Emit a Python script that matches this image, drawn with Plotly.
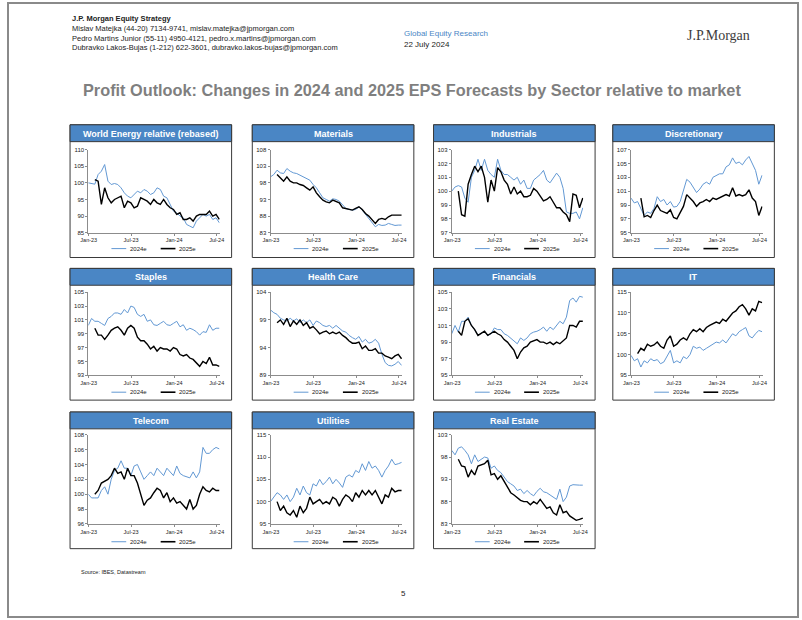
import plotly.graph_objects as go

W, H = 802, 620

DATES = ["2022-12-30", "2023-01-13", "2023-01-27", "2023-02-10", "2023-02-24", "2023-03-10",
         "2023-03-24", "2023-04-07", "2023-04-21", "2023-05-05", "2023-05-19", "2023-06-02",
         "2023-06-16", "2023-06-30", "2023-07-14", "2023-07-28", "2023-08-11", "2023-08-25",
         "2023-09-08", "2023-09-22", "2023-10-06", "2023-10-20", "2023-11-03", "2023-11-17",
         "2023-12-01", "2023-12-15", "2023-12-29", "2024-01-12", "2024-01-26", "2024-02-09",
         "2024-02-23", "2024-03-08", "2024-03-22", "2024-04-05", "2024-04-19", "2024-05-03",
         "2024-05-17", "2024-05-31", "2024-06-14", "2024-06-28", "2024-07-12"]

TICK_VALS = ["2023-01-01", "2023-07-01", "2024-01-01", "2024-07-01"]
TICK_TEXT = ["Jan-23", "Jul-23", "Jan-24", "Jul-24"]
SERIES_NAMES = ["2024e", "2025e"]

ENERGY_24 = [100.0, 99.8, 99.6, 102.5, 103.5, 105.5, 100.5, 99.5, 99.8, 99.5, 98.5, 97.0, 96.0, 95.5, 96.5, 97.5, 97.0, 98.0, 97.5, 96.5, 97.0, 98.5, 98.0, 96.0, 95.5, 93.5, 91.5, 91.0, 90.0, 89.5, 87.5, 87.0, 86.5, 88.5, 89.5, 90.5, 90.0, 90.5, 89.0, 89.5, 88.0]
ENERGY_25 = [None, None, 101.0, 100.5, 93.5, 98.5, 95.5, 94.0, 95.0, 95.5, 96.0, 92.5, 94.5, 94.0, 92.5, 93.0, 95.5, 95.0, 94.5, 93.5, 95.0, 94.0, 93.5, 95.0, 93.5, 92.5, 92.0, 90.5, 91.0, 89.0, 89.0, 89.5, 88.5, 90.0, 90.5, 90.5, 90.5, 91.5, 90.0, 90.5, 89.0]

MATERIALS_24 = [99.8, 100.5, 101.8, 101.0, 100.8, 102.3, 101.5, 101.0, 100.8, 100.3, 100.0, 99.5, 98.8, 97.5, 96.5, 95.0, 93.5, 93.0, 92.5, 93.2, 93.0, 92.5, 91.5, 90.3, 90.0, 89.8, 90.0, 90.8, 89.8, 88.5, 87.2, 86.0, 84.8, 85.5, 85.2, 85.3, 85.8, 85.5, 85.2, 85.3, 85.3]
MATERIALS_25 = [None, None, 100.5, 99.5, 98.5, 99.8, 98.5, 98.0, 98.0, 97.5, 97.2, 96.5, 95.8, 96.8, 95.0, 93.8, 92.8, 92.3, 92.0, 92.8, 92.5, 92.0, 90.5, 90.2, 90.0, 89.8, 90.3, 90.8, 90.0, 88.8, 88.0, 87.0, 85.8, 87.0, 87.3, 87.0, 87.8, 88.3, 88.2, 88.3, 88.3]

INDUSTRIALS_24 = [100.0, 100.3, 100.4, 100.3, 99.5, 99.2, 101.0, 101.5, 102.3, 101.5, 102.3, 101.5, 101.2, 101.0, 102.3, 101.5, 101.2, 101.2, 101.0, 100.8, 101.0, 100.5, 100.8, 100.2, 100.2, 100.8, 101.0, 101.2, 101.5, 100.8, 100.6, 101.0, 101.3, 101.0, 100.2, 98.5, 98.4, 98.4, 98.5, 98.0, 98.8]
INDUSTRIALS_25 = [None, None, 100.0, 98.3, 98.2, 100.5, 101.2, 101.8, 101.4, 101.8, 101.0, 99.2, 100.8, 100.0, 101.7, 101.4, 100.8, 100.5, 99.8, 100.3, 99.8, 100.0, 99.6, 99.6, 99.7, 100.2, 100.0, 99.6, 99.3, 99.4, 99.6, 99.2, 98.8, 98.8, 98.5, 98.3, 97.8, 99.8, 99.7, 98.8, 99.5]

DISCRETIONARY_24 = [100.0, 99.3, 99.5, 98.5, 97.5, 98.0, 97.8, 98.5, 100.2, 99.5, 99.8, 99.0, 99.5, 98.7, 98.8, 99.5, 101.0, 102.7, 102.3, 101.5, 100.8, 101.3, 102.0, 102.3, 102.0, 103.0, 103.3, 103.5, 103.5, 104.5, 104.8, 105.8, 105.0, 105.2, 104.8, 105.5, 106.0, 105.0, 104.0, 102.0, 103.3]
DISCRETIONARY_25 = [None, None, None, 100.0, 97.3, 97.5, 97.2, 98.2, 99.0, 98.2, 98.0, 97.8, 98.3, 97.2, 97.0, 98.0, 98.8, 100.5, 100.0, 99.5, 98.8, 99.3, 99.5, 99.8, 99.5, 100.0, 99.8, 100.0, 100.2, 100.5, 100.3, 101.5, 100.3, 100.5, 100.3, 100.5, 101.2, 100.0, 99.5, 97.5, 98.8]

STAPLES_24 = [100.2, 101.2, 100.8, 100.8, 100.5, 100.2, 101.2, 101.5, 102.0, 102.0, 101.8, 102.5, 102.0, 103.0, 102.8, 101.8, 101.5, 101.8, 100.8, 101.0, 100.3, 100.2, 100.5, 100.8, 100.3, 100.2, 100.5, 100.8, 100.0, 100.3, 99.5, 99.8, 99.6, 99.3, 98.8, 99.3, 99.2, 100.3, 99.5, 99.8, 99.8]
STAPLES_25 = [None, None, 99.8, 98.8, 98.8, 98.2, 98.8, 99.5, 99.8, 100.0, 99.5, 98.8, 99.8, 100.2, 99.8, 98.5, 98.0, 98.0, 97.5, 96.8, 97.2, 96.5, 97.0, 96.8, 96.8, 96.5, 97.0, 96.8, 96.0, 95.8, 96.0, 95.5, 95.3, 94.8, 94.3, 95.0, 94.7, 95.6, 94.5, 94.5, 94.3]

HEALTH_24 = [100.8, 100.3, 100.0, 99.3, 99.0, 98.8, 99.3, 98.8, 99.2, 98.5, 99.0, 98.5, 99.0, 98.0, 98.8, 98.5, 98.0, 97.8, 98.0, 97.5, 98.0, 97.5, 97.0, 96.8, 96.2, 95.8, 95.5, 96.0, 95.0, 95.5, 94.8, 95.0, 95.5, 94.8, 92.8, 91.3, 90.8, 90.7, 91.0, 91.5, 90.8]
HEALTH_25 = [None, None, 98.5, 99.0, 98.2, 99.3, 97.8, 98.8, 98.2, 99.0, 98.0, 98.5, 97.5, 97.8, 97.2, 96.5, 96.8, 97.0, 96.5, 96.8, 96.5, 96.8, 96.2, 95.8, 95.2, 94.8, 94.8, 95.0, 93.8, 94.3, 93.5, 93.5, 93.8, 93.0, 93.0, 92.5, 92.3, 92.0, 92.5, 92.8, 92.0]

FINANCIALS_24 = [100.0, 101.0, 100.2, 101.5, 101.5, 102.0, 101.0, 100.5, 99.8, 100.0, 100.3, 99.8, 100.0, 100.7, 100.5, 100.5, 100.0, 99.8, 99.5, 99.2, 98.8, 99.5, 99.2, 99.5, 100.0, 100.2, 100.3, 100.5, 100.8, 100.3, 100.8, 100.5, 101.0, 101.5, 101.2, 102.0, 104.0, 104.3, 103.8, 104.5, 104.4]
FINANCIALS_25 = [None, None, 100.3, 99.8, 101.5, 101.8, 101.0, 100.5, 99.8, 100.0, 100.3, 99.8, 100.0, 100.3, 100.0, 99.8, 99.3, 99.0, 98.5, 98.0, 97.0, 97.8, 98.3, 98.5, 99.0, 99.2, 99.3, 99.0, 99.0, 98.8, 99.0, 98.7, 99.0, 98.8, 99.2, 99.5, 101.0, 101.0, 100.8, 101.5, 101.5]

IT_24 = [99.8, 98.5, 99.0, 97.0, 98.5, 98.0, 99.0, 98.5, 98.8, 97.8, 98.2, 99.5, 101.0, 98.0, 98.5, 98.0, 99.5, 99.0, 100.0, 102.0, 101.5, 101.8, 101.0, 101.5, 102.0, 102.5, 103.0, 102.8, 103.5, 102.8, 104.0, 105.0, 104.5, 105.5, 106.0, 106.5, 104.5, 104.0, 105.0, 105.8, 105.5]
IT_25 = [None, None, 100.2, 101.5, 101.0, 102.5, 102.0, 102.3, 103.0, 102.0, 101.5, 103.5, 104.5, 102.0, 102.5, 103.5, 104.0, 103.5, 105.0, 106.0, 105.5, 106.2, 105.5, 106.5, 107.0, 107.5, 107.8, 107.5, 108.5, 108.0, 109.0, 110.0, 110.5, 111.5, 112.0, 111.0, 109.5, 111.0, 110.5, 112.8, 112.5]

TELECOM_24 = [100.0, 99.5, 99.5, 99.5, 100.5, 101.0, 100.0, 102.0, 103.2, 103.5, 104.5, 103.5, 103.5, 102.5, 103.8, 104.0, 103.0, 102.0, 102.5, 103.0, 102.5, 103.5, 103.0, 102.5, 103.5, 103.0, 102.5, 103.8, 102.8, 102.5, 102.3, 102.2, 103.0, 102.2, 103.0, 106.3, 105.5, 105.5, 106.0, 106.3, 106.1]
TELECOM_25 = [None, None, 100.0, 100.5, 101.5, 101.8, 102.0, 102.5, 103.5, 102.8, 103.0, 102.0, 103.5, 102.5, 102.5, 101.5, 100.0, 98.5, 99.2, 99.5, 100.2, 100.8, 100.5, 99.5, 100.2, 99.0, 99.5, 98.8, 99.0, 98.5, 98.0, 99.3, 98.0, 98.5, 100.0, 101.0, 100.5, 100.3, 100.8, 100.5, 100.5]

UTILITIES_24 = [100.0, 101.0, 102.0, 101.5, 100.5, 101.5, 100.0, 101.0, 103.0, 101.5, 103.5, 102.0, 101.5, 104.0, 103.5, 105.0, 103.8, 104.5, 105.5, 104.0, 105.0, 104.2, 103.2, 105.5, 106.0, 105.5, 107.0, 106.5, 108.5, 107.0, 109.0, 107.5, 108.0, 107.0, 105.5, 107.0, 108.0, 109.5, 108.3, 108.5, 108.8]
UTILITIES_25 = [None, None, 100.0, 98.0, 99.0, 97.5, 97.0, 98.0, 96.5, 99.0, 97.5, 98.5, 101.0, 99.5, 100.0, 100.5, 99.5, 100.0, 99.5, 101.0, 100.5, 99.0, 100.5, 101.5, 101.0, 100.0, 102.0, 101.0, 102.5, 101.5, 102.5, 101.5, 102.5, 101.0, 99.5, 101.5, 101.0, 103.0, 102.2, 102.5, 102.5]

REALESTATE_24 = [99.5, 98.5, 100.0, 100.3, 99.5, 98.5, 96.5, 98.5, 97.0, 97.5, 98.0, 97.8, 95.5, 96.0, 95.0, 94.5, 93.5, 92.5, 92.0, 91.5, 90.5, 90.8, 89.8, 90.5, 89.8, 89.3, 90.3, 91.0, 90.2, 90.0, 89.5, 89.0, 88.5, 90.8, 88.0, 89.0, 91.5, 91.8, 91.7, 91.7, 91.7]
REALESTATE_25 = [None, None, 97.5, 96.0, 95.8, 93.5, 95.0, 94.0, 96.0, 96.3, 96.5, 97.3, 94.0, 94.3, 93.0, 93.8, 92.5, 91.5, 90.0, 89.5, 88.8, 88.3, 88.0, 88.0, 87.3, 88.0, 87.5, 88.5, 87.5, 86.5, 86.8, 85.5, 85.0, 87.3, 85.5, 85.8, 84.8, 84.3, 83.8, 84.0, 84.3]

TITLES = ["World Energy relative (rebased)", "Materials", "Industrials", "Discretionary",
          "Staples", "Health Care", "Financials", "IT",
          "Telecom", "Utilities", "Real Estate"]
SERIES_24 = [ENERGY_24, MATERIALS_24, INDUSTRIALS_24, DISCRETIONARY_24, STAPLES_24, HEALTH_24,
             FINANCIALS_24, IT_24, TELECOM_24, UTILITIES_24, REALESTATE_24]
SERIES_25 = [ENERGY_25, MATERIALS_25, INDUSTRIALS_25, DISCRETIONARY_25, STAPLES_25, HEALTH_25,
             FINANCIALS_25, IT_25, TELECOM_25, UTILITIES_25, REALESTATE_25]
Y_MIN = [85, 83, 97, 95, 93, 89, 95, 95, 96, 95, 83]
Y_MAX = [110, 108, 103, 107, 105, 104, 105, 115, 108, 115, 103]
Y_STEP = [5, 5, 1, 2, 2, 5, 2, 5, 2, 5, 5]

# ---------------- styling / layout ----------------
BLUE_LINE = "#6298d3"
BLACK_LINE = "#000000"
BAR_BLUE = "#4a86c5"
BORDER = "#3a3a3a"
AXIS_COL = "#8c8c8c"
TXT = "#222222"
FONT = "Liberation Sans, Arial, sans-serif"

COL_LEFT = [63, 248, 432, 614]
BOX_W = 164
# (box top, plot top, plot bottom, box bottom, legend y)
ROWS = [(123, 148, 232, 257, 248), (268, 292, 376, 401, 393), (413, 436, 526, 551, 544)]


def px(x):
    return x / W


def py(y):
    return 1 - y / H


fig = go.Figure()
shapes = []
annotations = []
layout_axes = {}

for i, title in enumerate(TITLES):
    r, c = divmod(i, 4)
    bx = COL_LEFT[c]
    btop, ptop, pbot, bbot, legy = ROWS[r]
    n = i + 1
    xa = "x" if n == 1 else f"x{n}"
    ya = "y" if n == 1 else f"y{n}"
    xkey = "xaxis" if n == 1 else f"xaxis{n}"
    ykey = "yaxis" if n == 1 else f"yaxis{n}"

    # panel box and title bar
    shapes.append(dict(type="rect", xref="paper", yref="paper", x0=px(bx), x1=px(bx + BOX_W),
                       y0=py(bbot), y1=py(btop), line=dict(color=BORDER, width=1),
                       fillcolor="white", layer="below"))
    shapes.append(dict(type="rect", xref="paper", yref="paper", x0=px(bx), x1=px(bx + BOX_W),
                       y0=py(btop + 17), y1=py(btop), line=dict(color=BORDER, width=1),
                       fillcolor=BAR_BLUE, layer="below"))
    annotations.append(dict(text=f"<b>{title}</b>", x=px(bx + BOX_W / 2), y=py(btop + 9),
                            xref="paper", yref="paper", showarrow=False, xanchor="center",
                            yanchor="middle", font=dict(family=FONT, size=9, color="white")))

    # legend (manual, small line samples)
    for j, (name, col, wid) in enumerate(zip(SERIES_NAMES, [BLUE_LINE, BLACK_LINE], [1, 1.6])):
        lx = bx + 42 + j * 50
        shapes.append(dict(type="line", xref="paper", yref="paper", x0=px(lx), x1=px(lx + 15),
                           y0=py(legy), y1=py(legy), line=dict(color=col, width=wid)))
        annotations.append(dict(text=name, x=px(lx + 17), y=py(legy), xref="paper", yref="paper",
                                showarrow=False, xanchor="left", yanchor="middle",
                                font=dict(family=FONT, size=6, color=TXT)))

    fig.add_trace(go.Scatter(x=DATES, y=SERIES_24[i], mode="lines", name=SERIES_NAMES[0],
                             line=dict(color=BLUE_LINE, width=1), xaxis=xa, yaxis=ya,
                             showlegend=False, hoverinfo="x+y"))
    fig.add_trace(go.Scatter(x=DATES, y=SERIES_25[i], mode="lines", name=SERIES_NAMES[1],
                             line=dict(color=BLACK_LINE, width=1.4), xaxis=xa, yaxis=ya,
                             showlegend=False, hoverinfo="x+y"))

    layout_axes[xkey] = dict(domain=[px(bx + 18.5), px(bx + 152)], anchor=ya,
                             range=["2022-12-30", "2024-07-14"], type="date",
                             tickvals=TICK_VALS, ticktext=TICK_TEXT, showgrid=False, zeroline=False,
                             showline=True, linecolor=AXIS_COL, linewidth=1, ticks="outside",
                             ticklen=2, tickcolor=AXIS_COL,
                             tickfont=dict(family=FONT, size=5.5, color=TXT), fixedrange=True)
    layout_axes[ykey] = dict(domain=[py(pbot), py(ptop)], anchor=xa,
                             range=[Y_MIN[i], Y_MAX[i]], tick0=Y_MIN[i], dtick=Y_STEP[i],
                             showgrid=False, zeroline=False, showline=True, linecolor=AXIS_COL,
                             linewidth=1, ticks="outside", ticklen=2, tickcolor=AXIS_COL,
                             tickfont=dict(family=FONT, size=6, color=TXT), fixedrange=True)

# header texts
header = [
    ("<b>J.P. Morgan Equity Strategy</b>", 63, 16, 7.5, TXT, "left"),
    ("Mislav Matejka (44-20) 7134-9741, mislav.matejka@jpmorgan.com", 63, 26, 7.5, TXT, "left"),
    ("Pedro Martins Junior (55-11) 4950-4121, pedro.x.martins@jpmorgan.com", 63, 35.5, 7.5, TXT, "left"),
    ("Dubravko Lakos-Bujas (1-212) 622-3601, dubravko.lakos-bujas@jpmorgan.com", 63, 44.5, 7.5, TXT, "left"),
    ("Global Equity Research", 400, 31, 8, "#4a86c5", "left"),
    ("22 July 2024", 400, 42, 8, TXT, "left"),
    ("Source: IBES, Datastream", 72, 575, 5.5, TXT, "left"),
    ("5", 401, 596, 8, TXT, "center"),
]
for text, x, y, size, col, anchor in header:
    annotations.append(dict(text=text, x=px(x), y=py(y), xref="paper", yref="paper",
                            showarrow=False, xanchor=anchor, yanchor="middle",
                            font=dict(family=FONT, size=size, color=col)))

annotations.append(dict(text="J.P.Morgan", x=px(721), y=py(33), xref="paper", yref="paper",
                        showarrow=False, xanchor="center", yanchor="middle",
                        font=dict(family="Liberation Serif, serif", size=14, color="#3c3c3c")))
annotations.append(dict(text="<b>Profit Outlook: Changes in 2024 and 2025 EPS Forecasts by Sector relative to market</b>",
                        x=px(410), y=py(88), xref="paper", yref="paper", showarrow=False,
                        xanchor="center", yanchor="middle",
                        font=dict(family=FONT, size=16.3, color="#7f7f7f")))

# page frame
shapes.append(dict(type="rect", xref="paper", yref="paper", x0=0, x1=1, y0=0, y1=1,
                   line=dict(color="#8a8a8a", width=2), layer="below"))

fig.update_layout(width=W, height=H, autosize=False, margin=dict(l=0, r=0, t=0, b=0),
                  paper_bgcolor="white", plot_bgcolor="white", showlegend=False,
                  shapes=shapes, annotations=annotations, **layout_axes)

fig.write_html("out.html", config={"displayModeBar": False},
               post_script="document.body.style.margin='0px';")
